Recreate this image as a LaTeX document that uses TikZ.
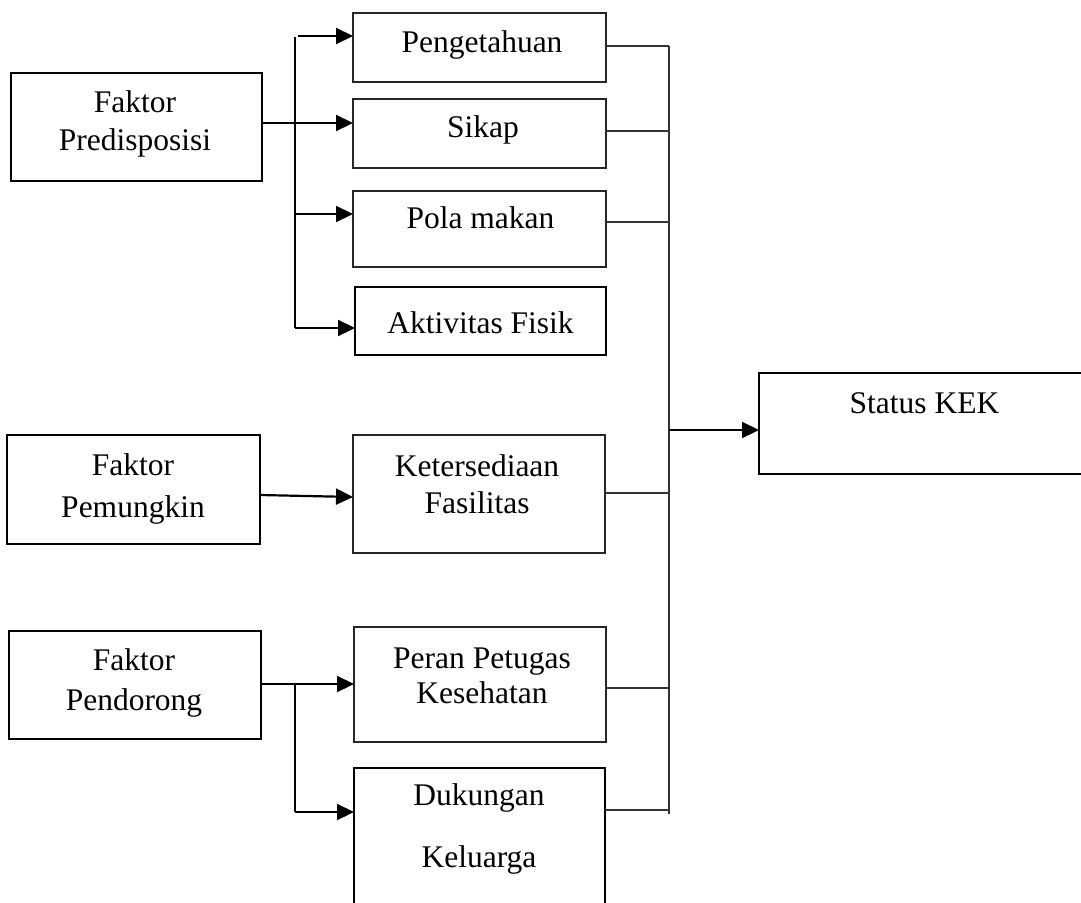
\documentclass[tikz,border=0pt]{standalone}
\usepackage{fontspec}
\setmainfont{Liberation Serif}
\usetikzlibrary{arrows.meta}
\begin{document}
\begin{tikzpicture}[x=1pt,y=-1pt,
  box/.style 2 args={draw=black!85, line width=1.4pt, inner sep=0pt, outer sep=0pt, minimum width=#1pt, minimum height=#2pt},
  boxk/.style 2 args={box={#1}{#2}, draw=black, line width=2pt},
  txt/.style={font=\fontsize{31.5}{37}\selectfont, align=center, anchor=base, inner sep=0pt},
  arr/.style={line width=2.2pt, -{Triangle[length=17pt,width=16pt]}},
  conn/.style={line width=2.2pt},
  link/.style={line width=1.4pt, draw=black!80}]
\useasboundingbox (0,0) rectangle (1081,902);
\fill[white] (0,0) rectangle (1081,902);

% boxes
\node[boxk={251}{108}] (pred) at (136.5,127) {};
\node[box={253}{69}] (peng) at (479.5,47.5) {};
\node[box={253}{69}] (sikap) at (479.5,133.5) {};
\node[box={253}{76}] (pola) at (479.5,229) {};
\node[boxk={251}{68}] (akt) at (480.5,321) {};
\node[boxk={253}{109}] (pem) at (133.5,489.5) {};
\node[box={252}{118}] (ket) at (479,494) {};
\node[boxk={252}{108}] (pend) at (135,685) {};
\node[box={252}{115}] (peran) at (480,684.5) {};
\node[boxk={251}{142}] (duk) at (479.5,839) {};
\node[boxk={331}{101}] (status) at (924.5,423.5) {};

% texts (anchor = baseline of last line)
\node[txt] (tpred) at (135,150) {Faktor\\[1pt]Predisposisi};
\node[txt] (tpeng) at (482,52) {Pengetahuan};
\node[txt] (tsikap) at (483,137) {Sikap};
\node[txt] (tpola) at (480.5,228) {Pola makan};
\node[txt] (takt) at (480.5,333) {Aktivitas Fisik};
\node[txt] (tpem) at (133,517) {Faktor\\[5pt]Pemungkin};
\node[txt] (tket) at (477,513) {Ketersediaan\\Fasilitas};
\node[txt] (tpend) at (134,710) {Faktor\\[3pt]Pendorong};
\node[txt] (tperan) at (482,703) {Peran Petugas\\[-2pt]Kesehatan};
\node[txt] (tduk) at (479,867) {Dukungan\\[25pt]Keluarga};
\node[txt] (tstatus) at (924.5,413) {Status KEK};

% left connectors: Predisposisi
\coordinate (vtop) at (295,37);
\coordinate (vbot) at (295,328);
\coordinate (a1) at (298,36);
\coordinate (a2) at (295,123);
\coordinate (a3) at (295,214);
\draw[conn] (vtop) -- (vbot);
\draw[arr] (a1) -- (a1 -| peng.west);
\draw[arr] (pred.east |- a2) -- (a2 -| sikap.west);
\draw[arr] (a3) -- (a3 -| pola.west);
\draw[arr] (vbot) -- (vbot -| akt.west);

% Pemungkin
\draw[arr] (pem.east |- 0,495) -- (ket.west |- 0,497);

% Pendorong
\coordinate (p1) at (295,684);
\coordinate (p2) at (295,812);
\draw[arr] (pend.east |- p1) -- (p1 -| peran.west);
\draw[conn] (p1) -- (p2);
\draw[arr] (p2) -- (p2 -| duk.west);

% right bus
\coordinate (btop) at (669,46);
\coordinate (bbot) at (669,814);
\coordinate (bmid) at (669,430);
\draw[link] (btop) -- (bbot);
\draw[link] (peng.east |- btop) -- (btop);
\draw[link] (sikap.east |- 0,131) -- (bbot |- 0,131);
\draw[link] (pola.east |- 0,222) -- (bbot |- 0,222);
\draw[link] (ket.east |- 0,493) -- (bbot |- 0,493);
\draw[link] (peran.east |- 0,688) -- (bbot |- 0,688);
\draw[link] (duk.east |- 0,810) -- (bbot |- 0,810);
\draw[arr] (bmid) -- (bmid -| status.west);
\end{tikzpicture}
\end{document}
